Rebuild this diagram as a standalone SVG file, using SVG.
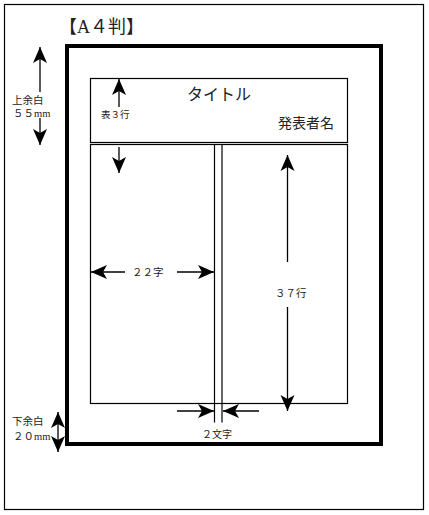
<svg xmlns="http://www.w3.org/2000/svg" width="429" height="515" viewBox="0 0 429 515">
<style>
.t{font-family:"Liberation Serif","Noto Sans CJK JP",serif;fill:#222}
.box{fill:none;stroke:#000;stroke-width:1.2}
.ar{stroke:#000;stroke-width:1.3;fill:none}
.s{marker-start:url(#ah)}
.e{marker-end:url(#ah)}
</style>
<defs>
<marker id="ah" viewBox="-16 -8 16 16" refX="0" refY="0" markerWidth="16" markerHeight="16" markerUnits="userSpaceOnUse" orient="auto-start-reverse">
<path d="M0,0 L-16,-7 L-12,0 L-16,7 Z" fill="#000"/>
</marker>
</defs>
<rect width="429" height="515" fill="#fff"/>
<g id="page">
<rect x="4.5" y="4.5" width="419" height="505" class="box"/>
<text class="t" x="59" y="33" font-size="18">【A４判】</text>
</g>
<g id="margin-frame">
<rect x="67" y="46" width="314" height="398" fill="none" stroke="#000" stroke-width="4"/>
</g>
<g id="title-box">
<rect x="90.5" y="78.5" width="257" height="64" class="box"/>
<text class="t" x="187" y="100" font-size="16">タイトル</text>
<text class="t" x="278" y="128" font-size="14">発表者名</text>
</g>
<g id="body-box">
<rect x="90.5" y="144.5" width="257" height="259" class="box"/>
<line x1="214.5" y1="144.5" x2="214.5" y2="422.5" class="box"/>
<line x1="222" y1="144.5" x2="222" y2="422.5" class="box"/>
</g>
<g id="labels">
<text class="t" x="12" y="104" font-size="10.5">上余白</text>
<text class="t" x="13" y="117" font-size="10.5">５５mm</text>
<text class="t" x="101" y="118" font-size="9.5">表３行</text>
<text class="t" x="132" y="276" font-size="10.5">２２字</text>
<text class="t" x="275" y="297" font-size="10.5">３７行</text>
<text class="t" x="12" y="425" font-size="10.5">下余白</text>
<text class="t" x="13" y="440" font-size="10.5">２０mm</text>
<text class="t" x="217" y="438" font-size="10" text-anchor="middle">２文字</text>
</g>
<g id="connectors">
<line x1="40" y1="47" x2="40" y2="92" class="ar s"/>
<line x1="40" y1="118" x2="40" y2="145" class="ar e"/>
<line x1="119" y1="79" x2="119" y2="107" class="ar s"/>
<line x1="119" y1="147" x2="119" y2="173" class="ar e"/>
<line x1="58" y1="412" x2="58" y2="452" class="ar s e"/>
<line x1="91" y1="272" x2="125" y2="272" class="ar s"/>
<line x1="177" y1="272" x2="214" y2="272" class="ar e"/>
<line x1="287.5" y1="155" x2="287.5" y2="262" class="ar s"/>
<line x1="287.5" y1="307" x2="287.5" y2="411" class="ar e"/>
<line x1="177" y1="411" x2="214" y2="411" class="ar e"/>
<line x1="259" y1="411" x2="223" y2="411" class="ar e"/>
</g>
</svg>
